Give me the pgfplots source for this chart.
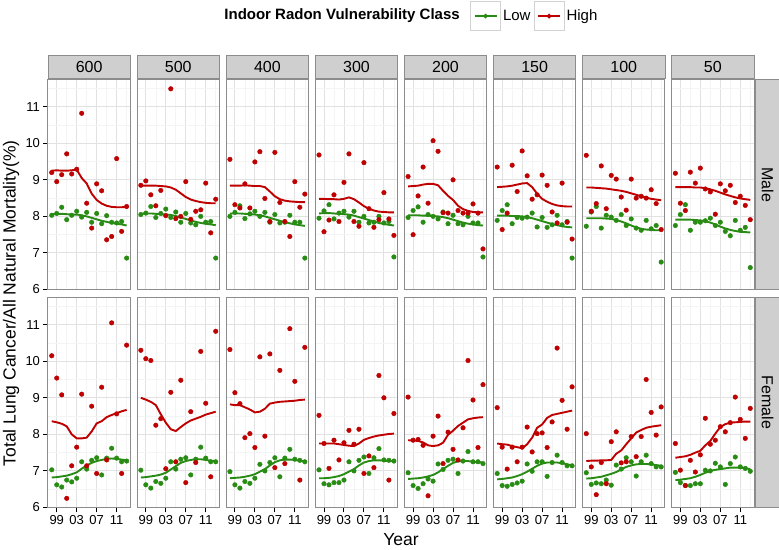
\documentclass[border=0pt]{standalone}
\usepackage{fontspec}
\setmainfont{Liberation Sans}
\usepackage{pgfplots}
\pgfplotsset{compat=1.18}
\usepackage{pgfplotstable}
\usepgfplotslibrary{groupplots}
\usetikzlibrary{calc}
\definecolor{lowc}{RGB}{40,140,20}
\definecolor{highc}{RGB}{190,0,0}
\definecolor{gridmaj}{RGB}{226,226,226}
\definecolor{gridmin}{RGB}{244,244,244}
\definecolor{stripc}{RGB}{207,207,207}
\definecolor{framec}{RGB}{140,140,140}

% columns: year, Low points, High points, Low smooth, High smooth
\pgfplotstableread{
year lp hp lf hf
1998 8.03 9.20 8.06 9.25
1999 8.08 8.95 8.07 9.26
2000 8.25 9.14 8.07 9.25
2001 7.91 9.71 8.06 9.25
2002 8.03 9.16 8.05 9.26
2003 8.14 9.29 8.05 9.28
2004 7.98 10.82 8.03 9.05
2005 8.11 8.36 8.00 8.90
2006 7.84 7.68 7.96 8.62
2007 8.08 8.89 7.92 8.45
2008 7.80 8.70 7.88 8.35
2009 8.02 7.36 7.85 8.29
2010 7.84 7.45 7.82 8.26
2011 7.82 9.58 7.80 8.25
2012 7.86 7.59 7.78 8.25
2013 6.86 8.27 7.75 8.26
}\tMa
\pgfplotstableread{
year lp hp lf hf
1998 8.05 8.85 8.07 8.84
1999 8.09 8.97 8.08 8.84
2000 8.27 8.59 8.08 8.84
2001 7.97 8.29 8.07 8.84
2002 8.08 8.71 8.06 8.83
2003 8.20 8.02 8.05 8.82
2004 7.97 11.49 8.04 8.79
2005 8.12 7.94 8.01 8.73
2006 7.84 8.00 7.97 8.63
2007 8.08 8.95 7.93 8.53
2008 7.82 7.92 7.89 8.46
2009 7.77 8.14 7.85 8.42
2010 8.00 8.18 7.82 8.39
2011 7.84 8.91 7.80 8.37
2012 7.86 7.55 7.78 8.36
2013 6.86 8.47 7.76 8.36
}\tMb
\pgfplotstableread{
year lp hp lf hf
1998 8.00 9.56 8.08 8.84
1999 8.11 8.32 8.08 8.84
2000 8.29 8.23 8.08 8.84
2001 7.94 8.89 8.07 8.85
2002 8.07 8.23 8.06 8.84
2003 8.14 9.49 8.05 8.83
2004 8.00 9.77 8.03 8.83
2005 8.11 8.49 8.00 8.80
2006 7.84 7.86 7.96 8.68
2007 8.05 9.75 7.92 8.55
2008 7.82 8.38 7.88 8.47
2009 7.84 7.86 7.84 8.43
2010 8.03 7.45 7.81 8.41
2011 7.84 8.95 7.78 8.40
2012 7.84 8.25 7.76 8.39
2013 6.86 8.61 7.74 8.39
}\tMc
\pgfplotstableread{
year lp hp lf hf
1998 7.95 9.68 8.08 8.48
1999 8.15 7.58 8.09 8.48
2000 8.32 7.90 8.09 8.47
2001 7.93 8.59 8.08 8.47
2002 8.09 7.86 8.07 8.46
2003 8.14 8.93 8.06 8.48
2004 7.98 9.71 8.05 8.52
2005 8.14 7.86 8.02 8.47
2006 7.84 7.73 7.98 8.38
2007 8.00 9.47 7.94 8.28
2008 7.82 8.21 7.90 8.21
2009 7.84 7.70 7.86 8.16
2010 8.00 7.91 7.82 8.13
2011 7.82 8.65 7.79 8.12
2012 7.86 7.93 7.77 8.11
2013 6.89 7.48 7.75 8.11
}\tMd
\pgfplotstableread{
year lp hp lf hf
1998 7.97 9.09 8.03 8.82
1999 8.16 7.50 8.03 8.83
2000 8.26 8.56 8.03 8.84
2001 7.84 9.35 8.02 8.87
2002 8.05 8.36 8.02 8.89
2003 8.00 10.07 8.01 8.89
2004 7.93 9.78 8.00 8.85
2005 8.12 8.10 7.98 8.70
2006 7.80 8.09 7.95 8.56
2007 8.03 9.00 7.91 8.45
2008 7.80 8.16 7.87 8.29
2009 7.77 8.09 7.83 8.20
2010 8.00 8.09 7.80 8.15
2011 7.82 8.34 7.78 8.12
2012 7.82 8.09 7.76 8.11
2013 6.89 7.11 7.75 8.11
}\tMe
\pgfplotstableread{
year lp hp lf hf
1998 7.89 9.35 8.02 8.80
1999 8.16 7.64 8.02 8.81
2000 8.32 8.09 8.02 8.82
2001 7.80 9.40 8.01 8.84
2002 7.97 8.68 8.01 8.87
2003 7.95 9.79 8.00 8.90
2004 7.98 9.11 7.98 8.91
2005 8.09 8.47 7.95 8.80
2006 7.71 8.59 7.91 8.62
2007 7.97 9.13 7.87 8.48
2008 7.70 8.85 7.83 8.40
2009 7.77 8.12 7.79 8.34
2010 8.03 7.82 7.76 8.30
2011 7.77 8.91 7.73 8.28
2012 7.86 7.84 7.71 8.27
2013 6.86 7.38 7.70 8.27
}\tMf
\pgfplotstableread{
year lp hp lf hf
1998 7.73 9.67 7.95 8.79
1999 8.12 8.14 7.95 8.79
2000 8.27 8.35 7.95 8.78
2001 7.68 9.38 7.95 8.77
2002 8.03 8.21 7.94 8.76
2003 7.98 9.12 7.93 8.74
2004 7.89 9.02 7.90 8.72
2005 8.05 8.53 7.86 8.70
2006 7.75 8.17 7.81 8.67
2007 7.93 9.02 7.75 8.63
2008 7.68 8.50 7.70 8.59
2009 7.62 8.55 7.66 8.55
2010 7.89 8.50 7.64 8.51
2011 7.66 8.73 7.63 8.48
2012 7.75 8.35 7.62 8.46
2013 6.75 7.64 7.62 8.44
}\tMg
\pgfplotstableread{
year lp hp lf hf
1998 7.75 9.18 7.91 8.80
1999 8.05 8.36 7.91 8.80
2000 8.32 8.16 7.91 8.80
2001 7.62 9.21 7.91 8.80
2002 7.84 8.91 7.90 8.79
2003 7.84 9.32 7.89 8.79
2004 7.88 8.75 7.87 8.77
2005 7.95 8.67 7.83 8.74
2006 7.75 8.06 7.78 8.70
2007 7.84 8.89 7.72 8.65
2008 7.59 8.70 7.67 8.60
2009 7.47 8.85 7.63 8.56
2010 7.89 8.38 7.60 8.52
2011 7.62 8.55 7.58 8.49
2012 7.70 8.30 7.57 8.47
2013 6.60 7.91 7.56 8.45
}\tMh
\pgfplotstableread{
year lp hp lf hf
1998 7.03 10.15 6.82 8.36
1999 6.62 9.54 6.83 8.33
2000 6.56 9.08 6.85 8.29
2001 6.75 6.25 6.87 8.22
2002 6.70 7.14 6.91 8.00
2003 6.80 7.65 6.96 7.89
2004 7.25 9.10 7.06 7.89
2005 7.05 7.14 7.15 7.91
2006 7.29 8.77 7.22 8.08
2007 7.36 6.93 7.27 8.30
2008 6.89 9.29 7.30 8.36
2009 7.35 7.30 7.33 8.47
2010 7.62 11.05 7.34 8.53
2011 7.35 8.56 7.33 8.58
2012 7.25 6.93 7.31 8.63
2013 7.27 10.44 7.29 8.67
}\tFa
\pgfplotstableread{
year lp hp lf hf
1998 7.02 10.30 6.82 9.00
1999 6.62 10.07 6.83 8.95
2000 6.53 10.02 6.85 8.89
2001 6.71 8.25 6.87 8.80
2002 6.66 8.43 6.90 8.55
2003 6.80 7.06 6.95 8.32
2004 7.25 9.15 7.04 8.14
2005 7.05 7.25 7.13 8.09
2006 7.32 9.48 7.22 8.20
2007 7.36 6.68 7.27 8.30
2008 6.89 8.62 7.30 8.38
2009 7.32 7.23 7.32 8.43
2010 7.65 10.27 7.32 8.48
2011 7.35 8.85 7.30 8.54
2012 7.25 6.84 7.28 8.58
2013 7.25 10.82 7.27 8.62
}\tFb
\pgfplotstableread{
year lp hp lf hf
1998 6.98 10.32 6.80 8.82
1999 6.62 9.14 6.81 8.80
2000 6.53 8.84 6.82 8.80
2001 6.71 7.91 6.84 8.74
2002 6.66 8.02 6.87 8.68
2003 6.80 7.64 6.91 8.60
2004 7.18 10.12 6.98 8.62
2005 7.00 7.95 7.05 8.70
2006 7.23 10.20 7.15 8.84
2007 7.36 7.09 7.24 8.87
2008 6.84 9.75 7.29 8.89
2009 7.35 7.20 7.31 8.90
2010 7.59 10.89 7.31 8.91
2011 7.32 9.45 7.30 8.92
2012 7.29 6.75 7.28 8.94
2013 7.25 10.38 7.26 8.95
}\tFc
\pgfplotstableread{
year lp hp lf hf
1998 7.03 8.52 6.80 7.75
1999 6.65 7.75 6.80 7.75
2000 6.62 7.07 6.81 7.75
2001 6.68 7.84 6.83 7.75
2002 6.68 7.30 6.86 7.73
2003 6.75 7.77 6.91 7.71
2004 7.25 8.11 6.98 7.69
2005 7.00 7.73 7.05 7.68
2006 7.29 8.14 7.15 7.75
2007 7.38 6.93 7.23 7.85
2008 6.93 7.41 7.27 7.90
2009 7.36 7.09 7.29 7.94
2010 7.61 9.61 7.29 7.97
2011 7.30 9.00 7.28 7.99
2012 7.29 6.75 7.27 8.01
2013 7.27 8.57 7.27 8.02
}\tFd
\pgfplotstableread{
year lp hp lf hf
1998 6.95 9.02 6.78 7.84
1999 6.60 7.84 6.79 7.83
2000 6.52 7.86 6.80 7.82
2001 6.65 7.70 6.82 7.78
2002 6.78 6.32 6.85 7.70
2003 6.72 7.95 6.89 7.68
2004 7.19 8.50 6.96 7.70
2005 7.04 7.20 7.05 7.77
2006 7.29 8.06 7.14 7.99
2007 7.32 7.59 7.22 8.10
2008 6.93 7.30 7.26 8.23
2009 7.27 8.18 7.27 8.32
2010 7.53 10.02 7.27 8.41
2011 7.25 8.94 7.25 8.44
2012 7.25 7.64 7.24 8.46
2013 7.20 9.36 7.23 8.47
}\tFe
\pgfplotstableread{
year lp hp lf hf
1998 6.93 8.73 6.77 7.75
1999 6.60 7.65 6.78 7.73
2000 6.58 7.05 6.80 7.72
2001 6.63 7.65 6.82 7.68
2002 6.67 7.25 6.86 7.65
2003 6.72 7.65 6.91 7.62
2004 7.19 8.20 6.98 7.73
2005 6.99 7.52 7.06 7.91
2006 7.25 8.02 7.14 8.18
2007 7.25 8.04 7.20 8.27
2008 6.85 7.64 7.23 8.45
2009 7.23 8.34 7.23 8.53
2010 7.43 10.36 7.23 8.56
2011 7.23 8.93 7.21 8.59
2012 7.14 8.14 7.18 8.62
2013 7.14 9.30 7.15 8.65
}\tFf
\pgfplotstableread{
year lp hp lf hf
1998 6.95 8.02 6.79 7.27
1999 6.63 7.11 6.80 7.28
2000 6.67 6.35 6.82 7.28
2001 6.65 7.23 6.84 7.29
2002 6.75 6.65 6.88 7.29
2003 6.61 7.80 6.92 7.30
2004 7.16 8.07 6.97 7.47
2005 7.05 7.22 7.04 7.56
2006 7.36 7.25 7.11 7.73
2007 7.25 7.94 7.15 7.89
2008 6.86 7.39 7.18 8.05
2009 7.25 7.94 7.19 8.12
2010 7.43 9.50 7.19 8.18
2011 7.20 8.60 7.18 8.21
2012 7.11 7.98 7.16 8.23
2013 7.11 8.75 7.14 8.25
}\tFg
\pgfplotstableread{
year lp hp lf hf
1998 6.96 7.75 6.75 7.36
1999 6.68 7.02 6.76 7.38
2000 6.60 6.60 6.78 7.40
2001 6.60 7.29 6.80 7.44
2002 6.65 6.97 6.84 7.50
2003 6.65 7.44 6.89 7.55
2004 7.02 8.44 6.95 7.70
2005 7.00 7.73 7.00 7.82
2006 7.21 7.84 7.03 8.02
2007 7.11 8.21 7.05 8.20
2008 6.63 8.07 7.07 8.28
2009 7.20 8.32 7.09 8.32
2010 7.38 9.02 7.09 8.33
2011 7.11 8.41 7.09 8.34
2012 7.07 7.89 7.07 8.35
2013 6.99 8.71 7.05 8.35
}\tFh

\newcommand{\drawpanel}[1]{%
  \addplot[forget plot, color=lowc, only marks, mark=*, mark size=2.3pt, mark options={solid, fill=lowc}] table[x=year, y=lp] {#1};
  \addplot[forget plot, color=highc, only marks, mark=*, mark size=2.3pt, mark options={solid, fill=highc}] table[x=year, y=hp] {#1};
  \addplot[forget plot, color=lowc, line width=1.9pt, no marks] table[x=year, y=lf] {#1};
  \addplot[forget plot, color=highc, line width=1.9pt, no marks] table[x=year, y=hf] {#1};
}
\newcommand{\topstrip}[1]{%
  \draw[draw=framec, fill=stripc, line width=0.8pt] ([yshift=0.6pt]rel axis cs:0,1) rectangle ([yshift=24.3pt]rel axis cs:1,1);
  \node[font=\fontsize{16}{18}\selectfont] at ([yshift=12.4pt]rel axis cs:0.5,1) {#1};
}
\newcommand{\sidestrip}[1]{%
  \draw[draw=framec, fill=stripc, line width=0.8pt] ([xshift=1.2pt]rel axis cs:1,0) rectangle ([xshift=26pt]rel axis cs:1,1);
  \node[rotate=-90, font=\fontsize{16}{18}\selectfont] at ([xshift=13.5pt]rel axis cs:1,0.5) {#1};
}

\pgfplotsset{
  noy/.style={ytick style={draw=none}},
  nox/.style={xtick style={draw=none}},
}

\begin{document}
\begin{tikzpicture}
\begin{groupplot}[
  group style={group size=8 by 2, horizontal sep=6.7pt, vertical sep=7.4pt,
    xticklabels at=edge bottom, yticklabels at=edge left},
  scale only axis, width=82.4pt, height=210.6pt,
  xmin=1997.25, xmax=2013.75, ymin=5.99, ymax=11.75,
  xtick={1999,2003,2007,2011}, xticklabels={99,03,07,11},
  minor xtick={1997,2001,2005,2009,2013},
  ytick={6,7,8,9,10,11}, minor ytick={6.5,7.5,8.5,9.5,10.5,11.5},
  grid=both,
  major grid style={gridmaj, line width=0.9pt},
  minor grid style={gridmin, line width=0.6pt},
  axis line style={framec, line width=1pt},
  tick align=outside, major tick length=4.5pt, minor tick length=0pt,
  tick style={black, line width=1pt},
  xtick pos=bottom, ytick pos=left,
  tick label style={font=\fontsize{13}{15}\selectfont},
  /pgf/number format/assume math mode=true,
  clip=false,
]
\nextgroupplot[nox,
  legend style={at={(rel axis cs:5.12,1.30)}, anchor=west, draw=none, fill=none,
    legend columns=-1, font=\fontsize{15}{17}\selectfont, inner sep=0pt,
    /tikz/every even column/.append style={column sep=1pt}},
  legend image code/.code={%
    \draw[gray!35, fill=white, line width=1pt] (0pt,-14.5pt) rectangle (30pt,14.5pt);
    \draw[#1] (4pt,0pt) -- (26pt,0pt);
    \fill[#1] (15pt,0pt) circle (1.4pt);
  }]
\addlegendimage{lowc, line width=1.7pt}\addlegendentry{Low}
\addlegendimage{highc, line width=1.7pt}\addlegendentry{High}
\drawpanel{\tMa}\topstrip{600}
\node[anchor=east, font=\bfseries\fontsize{15}{17}\selectfont] at (rel axis cs:5.04,1.30) {Indoor Radon Vulnerability Class};
\nextgroupplot[nox,noy]\drawpanel{\tMb}\topstrip{500}
\nextgroupplot[nox,noy]\drawpanel{\tMc}\topstrip{400}
\nextgroupplot[nox,noy]\drawpanel{\tMd}\topstrip{300}
\nextgroupplot[nox,noy]\drawpanel{\tMe}\topstrip{200}
\nextgroupplot[nox,noy]\drawpanel{\tMf}\topstrip{150}
\nextgroupplot[nox,noy]\drawpanel{\tMg}\topstrip{100}
\nextgroupplot[nox,noy]\drawpanel{\tMh}\topstrip{50}\sidestrip{Male}
\nextgroupplot\drawpanel{\tFa}
\nextgroupplot[noy]\drawpanel{\tFb}
\nextgroupplot[noy]\drawpanel{\tFc}
\nextgroupplot[noy]\drawpanel{\tFd}
\nextgroupplot[noy]\drawpanel{\tFe}
\nextgroupplot[noy]\drawpanel{\tFf}
\nextgroupplot[noy]\drawpanel{\tFg}
\nextgroupplot[noy]\drawpanel{\tFh}\sidestrip{Female}
\end{groupplot}
\node[rotate=90, font=\fontsize{17.5}{20}\selectfont] at ([xshift=-37pt,yshift=-224pt]group c1r1.north west) {Total Lung Cancer/All Natural Mortality(\%)};
\node[font=\fontsize{17.5}{20}\selectfont] at ([yshift=-32pt]$(group c1r2.south west)!0.5!(group c8r2.south east)$) {Year};
\pgfresetboundingbox
\path[use as bounding box] ([xshift=-48pt,yshift=79.3pt]group c1r1.north west) rectangle ([xshift=25pt,yshift=-42pt]group c8r2.south east);
\end{tikzpicture}
\end{document}
